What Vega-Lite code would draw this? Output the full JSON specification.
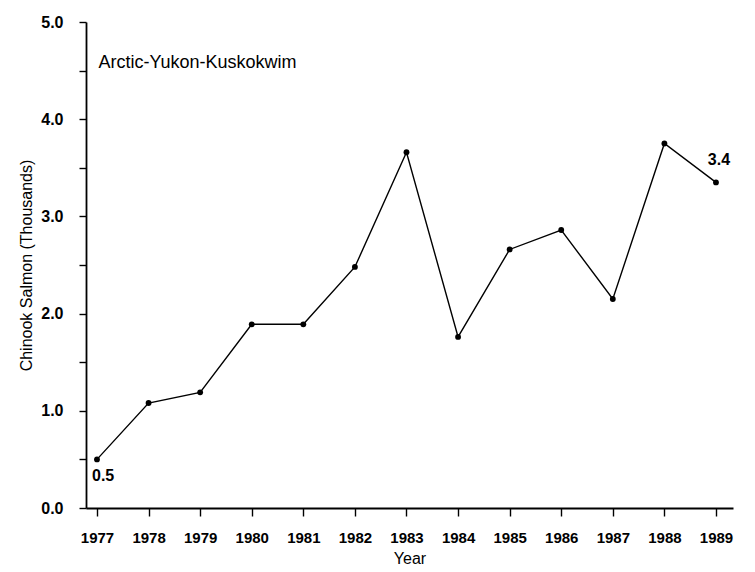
{
  "$schema": "https://vega.github.io/schema/vega-lite/v6.json",
  "autosize": "none",
  "padding": {"left": 86, "top": 22, "right": 22, "bottom": 63},
  "width": 647,
  "height": 486,
  "background": "white",
  "config": {
    "view": {"stroke": null},
    "font": "Liberation Sans"
  },
  "datasets": {
    "series": [
      {"year": 1977, "value": 0.5},
      {"year": 1978, "value": 1.08},
      {"year": 1979, "value": 1.19},
      {"year": 1980, "value": 1.89},
      {"year": 1981, "value": 1.89},
      {"year": 1982, "value": 2.48},
      {"year": 1983, "value": 3.66},
      {"year": 1984, "value": 1.76},
      {"year": 1985, "value": 2.66},
      {"year": 1986, "value": 2.86},
      {"year": 1987, "value": 2.15},
      {"year": 1988, "value": 3.75},
      {"year": 1989, "value": 3.35}
    ],
    "first": [{"year": 1977, "value": 0.5, "label": "0.5"}],
    "last": [{"year": 1989, "value": 3.35, "label": "3.4"}],
    "note": [{"year": 1977.03, "value": 4.58, "label": "Arctic-Yukon-Kuskokwim"}]
  },
  "layer": [
    {
      "data": {"name": "series"},
      "mark": {"type": "line", "color": "black", "strokeWidth": 1.4},
      "encoding": {
        "x": {
          "field": "year", "type": "quantitative",
          "scale": {"domain": [1976.787, 1989.33], "nice": false, "zero": false},
          "axis": {
            "values": [1977, 1978, 1979, 1980, 1981, 1982, 1983, 1984, 1985, 1986, 1987, 1988, 1989],
            "format": "d",
            "grid": false,
            "labelFlush": false,
            "labelOverlap": false,
            "domainColor": "black",
            "domainWidth": 1.8,
            "tickColor": "black",
            "tickWidth": 1.4,
            "tickSize": 8,
            "labelPadding": 14,
            "labelFont": "Liberation Sans",
            "labelFontWeight": "bold",
            "labelFontSize": 15,
            "labelColor": "black",
            "title": "Year",
            "titleFont": "Liberation Sans",
            "titleFontWeight": "normal",
            "titleFontSize": 16,
            "titleColor": "black",
            "titlePadding": 5
          }
        },
        "y": {
          "field": "value", "type": "quantitative",
          "scale": {"domain": [0, 5], "nice": false},
          "axis": {
            "values": [0, 0.5, 1, 1.5, 2, 2.5, 3, 3.5, 4, 4.5, 5],
            "labelExpr": "datum.value % 1 === 0 ? format(datum.value, '.1f') : ''",
            "grid": false,
            "labelFlush": false,
            "labelOverlap": false,
            "domainColor": "black",
            "domainWidth": 1.8,
            "tickColor": "black",
            "tickWidth": 1.4,
            "tickSize": 7,
            "labelPadding": 16,
            "labelFont": "Liberation Sans",
            "labelFontWeight": "bold",
            "labelFontSize": 16,
            "labelColor": "black",
            "title": "Chinook Salmon (Thousands)",
            "titleFont": "Liberation Sans",
            "titleFontWeight": "normal",
            "titleFontSize": 16,
            "titleColor": "black",
            "titlePadding": 6
          }
        }
      }
    },
    {
      "data": {"name": "series"},
      "mark": {"type": "point", "filled": true, "color": "black", "size": 34, "opacity": 1},
      "encoding": {
        "x": {"field": "year", "type": "quantitative"},
        "y": {"field": "value", "type": "quantitative"}
      }
    },
    {
      "data": {"name": "first"},
      "mark": {"type": "text", "align": "left", "baseline": "middle", "dx": -5, "dy": 17, "font": "Liberation Sans", "fontWeight": "bold", "fontSize": 16, "color": "black"},
      "encoding": {
        "x": {"field": "year", "type": "quantitative"},
        "y": {"field": "value", "type": "quantitative"},
        "text": {"field": "label"}
      }
    },
    {
      "data": {"name": "last"},
      "mark": {"type": "text", "align": "center", "baseline": "middle", "dx": 3, "dy": -22, "font": "Liberation Sans", "fontWeight": "bold", "fontSize": 16, "color": "black"},
      "encoding": {
        "x": {"field": "year", "type": "quantitative"},
        "y": {"field": "value", "type": "quantitative"},
        "text": {"field": "label"}
      }
    },
    {
      "data": {"name": "note"},
      "mark": {"type": "text", "align": "left", "baseline": "middle", "font": "Liberation Sans", "fontSize": 18, "color": "black", "letterSpacing": -0.2},
      "encoding": {
        "x": {"field": "year", "type": "quantitative"},
        "y": {"field": "value", "type": "quantitative"},
        "text": {"field": "label"}
      }
    }
  ]
}
